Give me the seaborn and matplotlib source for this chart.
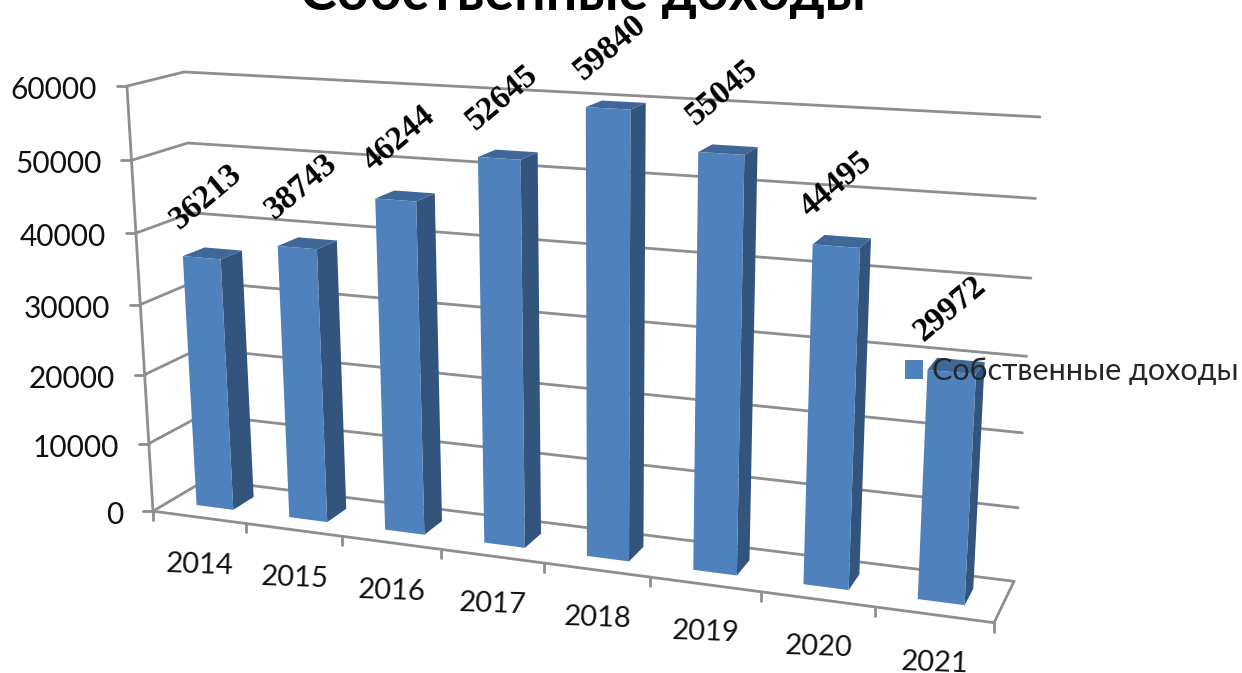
import matplotlib
matplotlib.use("Agg")
import matplotlib.pyplot as plt
import numpy as np
import pandas as pd
import seaborn as sns
from matplotlib.patches import Polygon
from matplotlib.transforms import IdentityTransform, Transform

title = "Собственные доходы"
series_name = "Собственные доходы"
years = ["2014", "2015", "2016", "2017", "2018", "2019", "2020", "2021"]
income = [36213, 38743, 46244, 52645, 59840, 55045, 44495, 29972]
y_ticks = [0, 10000, 20000, 30000, 40000, 50000, 60000]

W, H = 1242, 673
y_max = 60000
bar_width = 0.4
z_front, z_back = 0.3, 0.7

# corners of the chart box: (category pos, value share, depth) -> picture pixels
box_3d = [(0, 0, 0), (8, 0, 0), (8, 0, 1), (0, 0, 1), (0, 1, 0), (0, 1, 1), (8, 1, 1)]
box_px = [(152, 511), (994, 623), (1014, 581), (207, 480), (128, 86), (183, 72), (1040, 117)]

front_col = "#4f81bd"
side_col = "#32547d"
top_col = "#3f6797"
line_col = "#8e8e8e"

rows = []
rhs = []
for (a, b, c), (u, v) in zip(box_3d, box_px):
    rows.append([a, b, c, 1, 0, 0, 0, 0, -u * a, -u * b, -u * c])
    rows.append([0, 0, 0, 0, a, b, c, 1, -v * a, -v * b, -v * c])
    rhs += [u, v]
sol = np.linalg.lstsq(np.array(rows, float), np.array(rhs, float), rcond=None)[0]
P = np.append(sol, 1.0).reshape(3, 4)


def project(x, value, z):
    x, value, z = np.broadcast_arrays(x, value, z)
    pts = np.stack([x, value / y_max, z, np.ones_like(x, dtype=float)], axis=-1)
    q = pts @ P.T
    # display coords have y going up
    return np.stack([q[..., 0] / q[..., 2], H - q[..., 1] / q[..., 2]], axis=-1)


class BoxFace(Transform):
    input_dims = 2
    output_dims = 2

    def __init__(self, z):
        super().__init__()
        self.z = z

    def transform_non_affine(self, values):
        values = np.asarray(values, float)
        return project(values[:, 0] + 0.5, values[:, 1], self.z)


sns.set_theme(style="white")
plt.rcParams["font.family"] = ["Lato", "Open Sans", "DejaVu Sans"]

df = pd.DataFrame({"year": years, "income": income, "series": series_name})

fig = plt.figure(figsize=(W / 100, H / 100), dpi=100)
ax = fig.add_axes([0, 0, 1, 1])
sns.barplot(data=df, x="year", y="income", hue="series", palette=[front_col], width=bar_width,
            dodge=False, saturation=1, linewidth=0, edgecolor="none", ax=ax)
ax.set_xlim(-0.5, 7.5)
ax.set_ylim(0, y_max)
ax.set_axis_off()
px = IdentityTransform()


def seg(points, **kw):
    pts = np.array(points)
    ax.plot(pts[:, 0], pts[:, 1], color=line_col, lw=2, transform=px, clip_on=False,
            solid_capstyle="round", **kw)


# walls and floor
for t in y_ticks:
    a, b, c = project(0, t, 0), project(0, t, 1), project(8, t, 1)
    seg([a - (10, 0), a])
    seg([a, b, c], zorder=1)
seg([project(0, 0, 0), project(0, y_max, 0)], zorder=1)
seg([project(0, 0, 0), project(8, 0, 0), project(8, 0, 1)], zorder=1)
for i in range(0, 9):
    p = project(i, 0, 0)
    seg([p, p - (0, 9)], zorder=1)

# seaborn's bars are the front faces, pushed through the projection
for bar, val in zip(ax.patches, income):
    bar.set_transform(BoxFace(z_front))
    bar.set_clip_on(False)
    bar.set_zorder(3)
    x0 = bar.get_x() + 0.5
    x1 = x0 + bar.get_width()
    side = [project(x1, 0, z_front), project(x1, val, z_front), project(x1, val, z_back), project(x1, 0, z_back)]
    top = [project(x0, val, z_front), project(x1, val, z_front), project(x1, val, z_back), project(x0, val, z_back)]
    ax.add_patch(Polygon(side, closed=True, fc=side_col, ec="none", transform=px, clip_on=False, zorder=2.9))
    ax.add_patch(Polygon(top, closed=True, fc=top_col, ec="none", transform=px, clip_on=False, zorder=2.9))

# text
for t in y_ticks:
    p = project(0, t, 0)
    ax.text(p[0] - 30, p[1] - 4, str(t), ha="right", va="center",
            fontsize=21.5, color="#111111", transform=px, clip_on=False)

for i, yr in enumerate(years):
    p = project(i + 0.5, 0, 0)
    ax.text(p[0] + 1, p[1] - 48, yr, ha="center", va="center", fontsize=21, rotation=-2,
            color="#111111", transform=px, clip_on=False)

for i, val in enumerate(income):
    p = project(i + 0.5, val, 0.5)
    ax.text(p[0] - 6, p[1] + 57, str(val), ha="center", va="center", fontsize=24, rotation=40,
            family="Liberation Serif", weight="bold", rotation_mode="anchor", color="black",
            transform=px, clip_on=False, zorder=5)

ax.text(583, H - 10, title, ha="center", va="baseline", fontsize=40, weight="bold", color="black",
        transform=px, clip_on=False)

sns.move_legend(ax, loc="center left", bbox_to_anchor=(905 / W, 1 - 371 / H), frameon=False, title=None,
                fontsize=22, handlelength=0.6, handleheight=0.6, handletextpad=0.3, borderpad=0,
                borderaxespad=0)
ax.get_legend().set_zorder(6)

fig.savefig("out.png", dpi=100)
